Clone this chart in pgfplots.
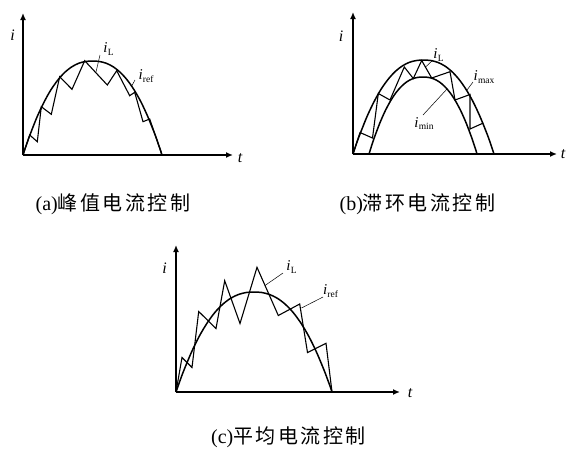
\documentclass[border=0pt]{standalone}
\usepackage{fontspec}
\setmainfont{Liberation Serif}
\newfontfamily\cjk{Noto Sans CJK SC}
\usepackage{pgfplots}
\pgfplotsset{compat=1.18}
\usetikzlibrary{arrows.meta}

% current symbol with an upright subscript
\newcommand\cur[1]{{\fontsize{15}{15}\selectfont\itshape i}\kern0.2pt\raisebox{-2.5pt}{\fontsize{9.5}{9.5}\selectfont #1}}
\newcommand\axlab[1]{{\fontsize{16}{16}\selectfont\itshape #1}}
\newcommand\figcap[2]{{\fontsize{20}{22}\selectfont(#1)\cjk #2}}
\newcommand\csp{\kern2.5pt}

\tikzset{lead/.style={line width=0.5pt, black}}
\pgfplotsset{
  wave/.style={
    x=1pt, y=1pt, xmin=0, ymin=0, enlargelimits=false, clip=false,
    axis lines=left, xtick=\empty, ytick=\empty,
    axis line style={line width=1.5pt, -{Latex[length=7pt,width=6pt]}},
    anchor=south west,
  },
  refc/.style={line width=1.5pt, smooth, black, no markers},
  il/.style={line width=1.1pt, sharp plot, black, no markers, line join=miter},
}

\begin{document}
\begin{tikzpicture}
\path[use as bounding box] (0pt,0pt) rectangle (567pt,-448pt);

% (a) peak current control
\begin{axis}[wave, at={(23pt,-155pt)}, xmax=210, ymax=142]
\addplot[refc] coordinates {(0,0)(1.7,5.3)(3.5,10.5)(7.0,20.2)(13.9,37.7)(20.9,52.6)(27.8,65.0)(34.8,74.9)(41.7,82.6)(48.7,88.1)(55.6,91.7)(62.6,93.5)(69.5,94)(76.5,93.5)(83.4,91.7)(90.4,88.1)(97.3,82.6)(104.3,74.9)(111.2,65.0)(118.2,52.6)(125.1,37.7)(132.1,20.2)(135.5,10.5)(137.3,5.3)(139,0)};
\addplot[il] coordinates {(0,0)(6.7,20)(14.3,13.3)(18.3,48.3)(28.3,40.7)(36.7,78.3)(49,65.7)(61.7,94.3)(84.3,70)(93.7,84.3)(106.7,59.3)(111.7,62.7)(120,33.3)(126.7,36)(139,0)};
\draw[lead] (axis cs:77,100) -- (axis cs:73,83);
\draw[lead] (axis cs:112,75) -- (axis cs:108.7,69);
\node at (axis cs:-10.5,120) {\axlab{i}};
\node at (axis cs:217,-3) {\axlab{t}};
\node at (axis cs:85.5,106) {\cur{L}};
\node at (axis cs:123,79) {\cur{ref}};
\end{axis}

% (b) hysteresis current control
\begin{axis}[wave, at={(353pt,-154pt)}, xmax=204, ymax=142]
\addplot[refc] coordinates {(0,0)(1.8,5.3)(3.5,10.5)(7.1,20.2)(14.1,37.7)(21.2,52.6)(28.2,65.0)(35.3,74.9)(42.3,82.6)(49.4,88.1)(56.4,91.7)(63.5,93.5)(70.5,94)(77.6,93.5)(84.6,91.7)(91.7,88.1)(98.7,82.6)(105.8,74.9)(112.8,65.0)(119.9,52.6)(126.9,37.7)(134.0,20.2)(137.5,10.5)(139.2,5.3)(141,0)};
\addplot[refc] coordinates {(16,0)(17.4,4.4)(18.7,8.6)(21.4,16.6)(26.8,30.9)(32.2,43.1)(37.6,53.2)(43,61.4)(48.4,67.6)(53.8,72.2)(59.2,75.1)(64.6,76.6)(70,77)(75.4,76.6)(80.8,75.1)(86.2,72.2)(91.6,67.6)(97,61.4)(102.4,53.2)(107.8,43.1)(113.2,30.9)(118.6,16.6)(121.3,8.6)(122.7,4.4)(124,0)};
\addplot[il] coordinates {(0,0)(7,21.5)(19.5,16)(25.3,60.5)(37,54)(51.3,87)(60.3,75.5)(68.7,93.5)(78.7,76)(97,82.3)(102,54)(117,59.5)(117,25)(130.3,31)};
\draw[lead] (axis cs:80,94) -- (axis cs:72,86.5);
\draw[lead] (axis cs:120,72) -- (axis cs:114,64);
\draw[lead] (axis cs:70,39) -- (axis cs:94,65);
\node at (axis cs:-12,118) {\axlab{i}};
\node at (axis cs:210,0) {\axlab{t}};
\node at (axis cs:85.5,99) {\cur{L}};
\node at (axis cs:131,77) {\cur{max}};
\node at (axis cs:71,30.5) {\cur{min}};
\end{axis}

% (c) average current control
\begin{axis}[wave, at={(176pt,-392pt)}, xmax=224, ymax=147]
\addplot[refc] coordinates {(0,0)(2.0,5.7)(3.9,11.1)(7.8,21.5)(15.6,40.1)(23.4,56.0)(31.2,69.1)(39,79.7)(46.8,87.8)(54.6,93.7)(62.4,97.5)(70.2,99.5)(78,100)(85.8,99.5)(93.6,97.5)(101.4,93.7)(109.2,87.8)(117,79.7)(124.8,69.1)(132.6,56.0)(140.4,40.1)(148.2,21.5)(152.1,11.1)(154.1,5.7)(156,0)};
\addplot[il] coordinates {(0,0)(6,34.5)(16,24.5)(22.7,80.5)(40,63.5)(48.7,111.3)(64,68.5)(81,124.7)(102.3,76.5)(123.7,88)(131.5,39.5)(150,48.7)(156,0)};
\draw[lead] (axis cs:107,119) -- (axis cs:89,106.5);
\draw[lead] (axis cs:147,95) -- (axis cs:125.5,84);
\node at (axis cs:-11.5,124) {\axlab{i}};
\node at (axis cs:234,-1) {\axlab{t}};
\node at (axis cs:115.5,125) {\cur{L}};
\node at (axis cs:154.5,101) {\cur{ref}};
\end{axis}

\node at (113pt,-204pt) {\figcap{a}{峰\csp 值\csp 电\csp 流\csp 控\csp 制}};
\node at (417.5pt,-204pt) {\figcap{b}{滞\csp 环\csp 电\csp 流\csp 控\csp 制}};
\node at (288.5pt,-437pt) {\figcap{c}{平\csp 均\csp 电\csp 流\csp 控\csp 制}};
\end{tikzpicture}
\end{document}
